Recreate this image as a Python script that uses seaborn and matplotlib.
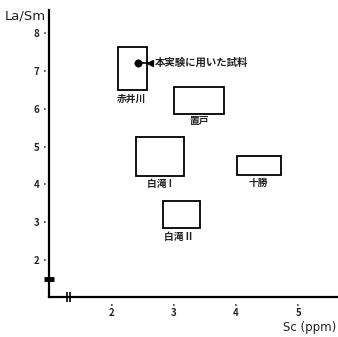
import matplotlib
matplotlib.use("Agg")
import matplotlib.pyplot as plt
from matplotlib.patches import Rectangle
import seaborn as sns
import pandas as pd

# --- data ---
regions = ["赤井川", "置戸", "白滝 I", "十勝", "白滝 II"]
sc_min = [2.10, 3.00, 2.39, 4.02, 2.82]
sc_max = [2.56, 3.81, 3.16, 4.73, 3.42]
lasm_min = [6.50, 5.87, 4.21, 4.24, 2.84]
lasm_max = [7.63, 6.58, 5.24, 4.74, 3.55]
label_x = [2.32, 3.40, 2.77, 4.36, 3.06]
label_y = [6.25, 5.67, 4.00, 4.03, 2.60]

sample_sc = [2.42]
sample_lasm = [7.21]
sample_label = "本実験に用いた試料"

x_ticks = [2, 3, 4, 5]
y_ticks = [2, 3, 4, 5, 6, 7, 8]

sns.set_style("white")
plt.rcParams['font.family'] = ['Noto Sans CJK JP', 'DejaVu Sans']

fig = plt.figure(figsize=(3.38, 3.37), dpi=100)
ax = fig.add_axes([49/338, 40/337, (338-49)/338, (297-10)/337])
ax.set_xlim(0.99, 5.64)
ax.set_ylim(1.02, 8.61)

for s in ["top", "right"]:
    ax.spines[s].set_visible(False)
for s in ["left", "bottom"]:
    ax.spines[s].set_color("black")
    ax.spines[s].set_linewidth(1.6)

# boxes
for x0, x1, y0, y1, name, lx, ly in zip(sc_min, sc_max, lasm_min, lasm_max,
                                         regions, label_x, label_y):
    ax.add_patch(Rectangle((x0, y0), x1 - x0, y1 - y0, fill=False,
                           edgecolor="black", linewidth=1.3))
    ax.text(lx, ly, name, ha="center", va="center", fontsize=7,
            fontweight="bold", color="#222222")

# sample point and arrow
df = pd.DataFrame({"Sc": sample_sc, "LaSm": sample_lasm})
sns.scatterplot(data=df, x="Sc", y="LaSm", ax=ax, s=28, color="black",
                edgecolor="black", zorder=5, legend=False)
ax.plot([sample_sc[0], sample_sc[0] + 0.2], [sample_lasm[0]] * 2,
        color="black", lw=1.2)
ax.plot([sample_sc[0] + 0.19], [sample_lasm[0]], marker="<", ms=5,
        color="black")
ax.text(sample_sc[0] + 0.27, sample_lasm[0], sample_label, ha="left",
        va="center", fontsize=7.5, fontweight="bold", color="#222222")
ax.set_xlabel("")
ax.set_ylabel("")

# ticks with dot marks
ax.set_xticks(x_ticks)
ax.set_xticklabels(["·\n" + str(v) for v in x_ticks], fontsize=7,
                   fontweight="bold", linespacing=0.6)
ax.set_yticks(y_ticks)
ax.set_yticklabels([str(v) + " ·" for v in y_ticks], fontsize=7,
                   fontweight="bold")
ax.tick_params(axis="both", length=0, pad=1)
ax.tick_params(axis="x", pad=3)

# axis break marks
ax.plot([ax.get_xlim()[0]], [1.5], marker="_", ms=7, mew=3.5, color="black",
        clip_on=False, zorder=6)
ax.plot([1.28, 1.33], [ax.get_ylim()[0]] * 2, marker="|", ms=7, mew=1.2,
        color="black", lw=0, clip_on=False, zorder=6)

fig.text(5/338, 1 - 16/337, "La/Sm", ha="left", va="center", fontsize=9.5,
         family="DejaVu Sans", color="#222222")
fig.text(336/338, 1 - 328/337, "Sc (ppm)", ha="right", va="center",
         fontsize=8.5, family="DejaVu Sans", color="#222222")

fig.savefig("out.png", dpi=100)
